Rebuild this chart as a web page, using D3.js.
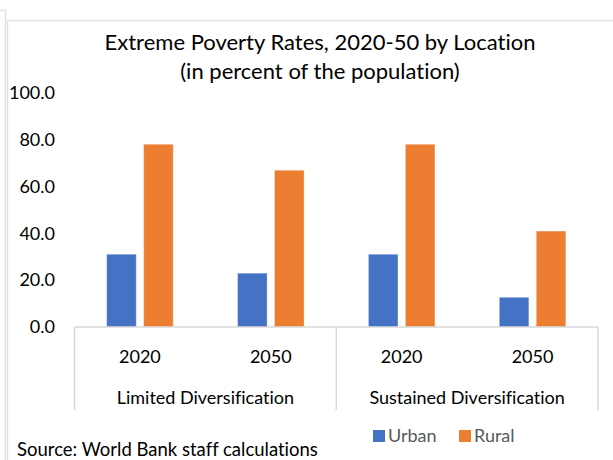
<!DOCTYPE html>
<html>
<head>
<meta charset="utf-8">
<script src="https://cdn.jsdelivr.net/npm/d3@7"></script>
<style>
  html, body { margin: 0; padding: 0; background: #fff; }
  svg { display: block; }
  text { font-family: Lato, "Open Sans", "Noto Sans", sans-serif; font-variant-ligatures: none; }
</style>
</head>
<body>
<svg id="chart" width="613" height="460"></svg>
<script>
// Extreme poverty rates by scenario, year and location (percent of population)
const groups = ["Limited Diversification", "Sustained Diversification"];
const years = ["2020", "2050", "2020", "2050"];
const groupOfYear = [0, 0, 1, 1];
const seriesNames = ["Urban", "Rural"];
const urban = [31.1, 23.0, 31.1, 12.7];
const rural = [78.1, 67.0, 78.1, 41.0];
const yTicks = [0, 20, 40, 60, 80, 100];
const titleLines = ["Extreme Poverty Rates, 2020-50 by Location", "(in percent of the population)"];
const sourceNote = "Source: World Bank staff calculations";

const colors = { Urban: "#4472C4", Rural: "#ED7D31" };
const gridGray = "#d9d9d9";

const svg = d3.select("#chart");

// outer frame lines
const frame = svg.append("g").attr("stroke", "#e3e3e3").attr("fill", "none");
frame.append("path").attr("d", "M0,10.5H5.5V460").attr("stroke-width", 1.5);
frame.append("path").attr("d", "M7.5,460V20.5H613").attr("stroke-width", 1.5);

const plot = { left: 74.5, right: 598, top: 93, bottom: 327 };

const x = d3.scaleBand()
  .domain(d3.range(years.length))
  .range([plot.left, plot.right])
  .paddingInner(0).paddingOuter(0);

const xSub = d3.scaleBand()
  .domain(seriesNames)
  .range([0, x.bandwidth()])
  .paddingInner(0.2)
  .paddingOuter(0.87);

const y = d3.scaleLinear().domain([0, 100]).range([plot.bottom, plot.top]);

// title
svg.append("g").selectAll("text")
  .data(titleLines)
  .join("text")
  .attr("x", 320)
  .attr("y", (d, i) => 50 + i * 29)
  .attr("text-anchor", "middle")
  .attr("font-size", 22)
  .attr("fill", "#000")
  .text(d => d);

// y axis labels (no axis line)
const yAxis = d3.axisLeft(y)
  .tickValues(yTicks)
  .tickFormat(d3.format(".1f"))
  .tickSize(0)
  .tickPadding(0);
const yg = svg.append("g").attr("transform", "translate(55,0)").call(yAxis);
yg.select(".domain").remove();
yg.selectAll("text")
  .attr("font-family", "Lato, 'Open Sans', sans-serif")
  .attr("font-size", 18)
  .attr("fill", "#000");

// bars
const rows = years.map((yr, i) => ({ i, values: [
  { key: "Urban", v: urban[i] },
  { key: "Rural", v: rural[i] }
] }));

svg.append("g").selectAll("g")
  .data(rows)
  .join("g")
  .attr("transform", d => `translate(${x(d.i)},0)`)
  .selectAll("rect")
  .data(d => d.values)
  .join("rect")
  .attr("x", d => xSub(d.key))
  .attr("width", xSub.bandwidth())
  .attr("y", d => y(d.v))
  .attr("height", d => y(0) - y(d.v))
  .attr("fill", d => colors[d.key])
  .attr("stroke", "rgba(255,255,255,0.35)")
  .attr("stroke-width", 1);

// category axis: baseline and group dividers
const axisG = svg.append("g").attr("stroke", gridGray).attr("stroke-width", 1.5);
axisG.append("line")
  .attr("x1", plot.left).attr("x2", plot.right)
  .attr("y1", plot.bottom).attr("y2", plot.bottom);
const dividers = [plot.left, x(2), plot.right];
axisG.selectAll("line.div")
  .data(dividers)
  .join("line")
  .attr("class", "div")
  .attr("x1", d => d).attr("x2", d => d)
  .attr("y1", plot.bottom).attr("y2", 410);

// year labels
svg.append("g").selectAll("text")
  .data(years)
  .join("text")
  .attr("x", (d, i) => x(i) + x.bandwidth() / 2)
  .attr("y", 362.5)
  .attr("text-anchor", "middle")
  .attr("font-size", 18)
  .attr("fill", "#000")
  .text(d => d);

// scenario labels
svg.append("g").selectAll("text")
  .data(groups)
  .join("text")
  .attr("x", (d, gi) => {
    const idx = groupOfYear.map((g, i) => g === gi ? i : -1).filter(i => i >= 0);
    return (x(idx[0]) + x(idx[idx.length - 1]) + x.bandwidth()) / 2;
  })
  .attr("y", 403.5)
  .attr("text-anchor", "middle")
  .attr("font-size", 18)
  .attr("fill", "#000")
  .text(d => d);

// legend
const legendX = [373, 459];
const lg = svg.append("g").selectAll("g")
  .data(seriesNames)
  .join("g")
  .attr("transform", (d, i) => `translate(${legendX[i]},430)`);
lg.append("rect").attr("width", 12).attr("height", 12).attr("fill", d => colors[d]);
lg.append("text")
  .attr("x", 15).attr("y", 12)
  .attr("font-size", 18)
  .attr("fill", "#595959")
  .text(d => d);

// source note
svg.append("text")
  .attr("x", 17).attr("y", 456)
  .attr("font-size", 18.5)
  .attr("fill", "#000")
  .text(sourceNote);
</script>
</body>
</html>
